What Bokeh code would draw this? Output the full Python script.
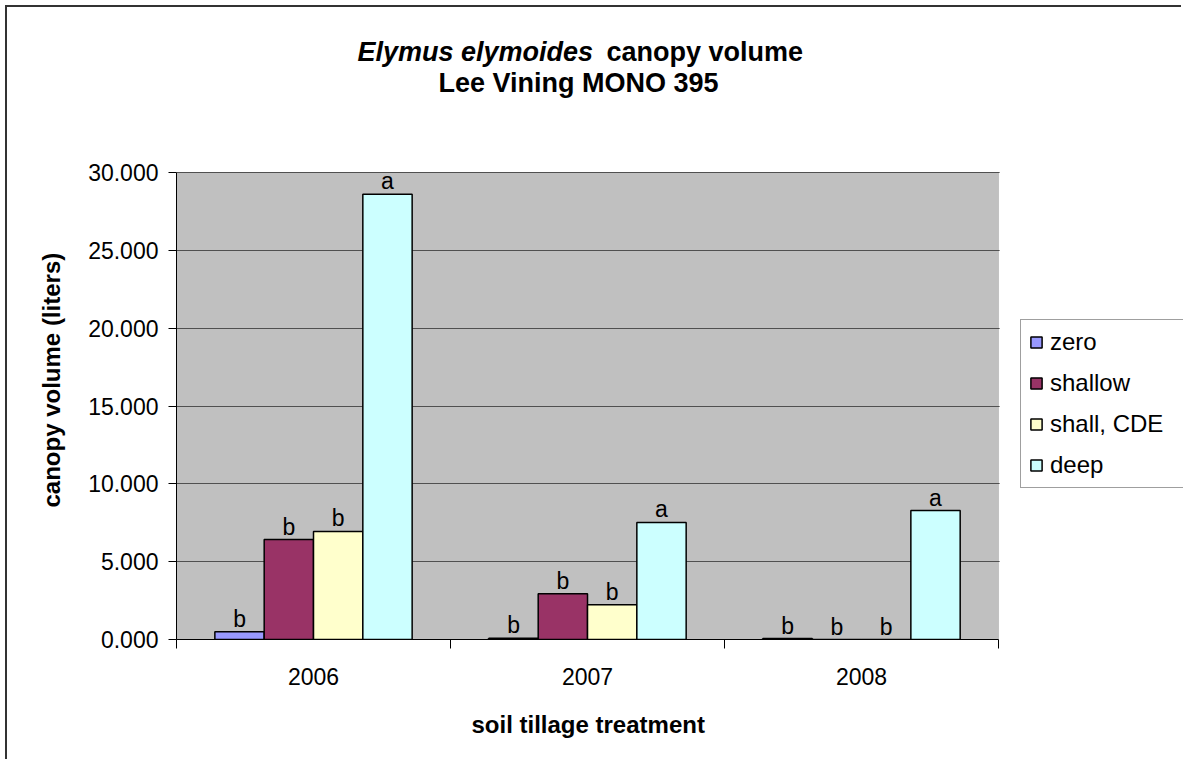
from bokeh.plotting import figure
from bokeh.models import (Range1d, FixedTicker, Label, Legend, LegendItem,
                          NumeralTickFormatter, BoxAnnotation, Title)
from bokeh.embed import file_html
from bokeh.resources import INLINE

years = ["2006", "2007", "2008"]
treatments = ["zero", "shallow", "shall, CDE", "deep"]
zero = [0.49, 0.08, 0.06]
shallow = [6.42, 2.94, 0.0]
shall_cde = [6.94, 2.23, 0.0]
deep = [28.61, 7.52, 8.28]
letters_zero = ["b", "b", "b"]
letters_shallow = ["b", "b", "b"]
letters_cde = ["b", "b", "b"]
letters_deep = ["a", "a", "a"]
y_ticks = [0, 5, 10, 15, 20, 25, 30]

colors = ["#9999FF", "#993366", "#FFFFCC", "#CCFFFF"]
offsets = [-0.27, -0.09, 0.09, 0.27]
bar_w = 0.18
FONT = "Liberation Sans"

p = figure(width=1176, height=754, output_backend="svg", toolbar_location=None,
           x_range=Range1d(0, 3.675), y_range=Range1d(0, 40.6),
           min_border_left=169, min_border_right=0,
           min_border_top=0, min_border_bottom=122)
p.margin = (5, 0, 0, 5)
p.styles = {"border-left": "2px solid #333333", "border-top": "2px solid #333333"}
p.background_fill_color = "white"
p.border_fill_color = "white"
p.outline_line_color = None

# grey plot area
p.add_layout(BoxAnnotation(left=0, right=3, bottom=0, top=30,
                           fill_color="#C0C0C0", fill_alpha=1,
                           line_color="#808080", line_width=1, level="image"))

series = [zero, shallow, shall_cde, deep]
letters = [letters_zero, letters_shallow, letters_cde, letters_deep]
items = []
for k, (vals, lets) in enumerate(zip(series, letters)):
    xs = [i + 0.5 + offsets[k] for i in range(len(years))]
    r = p.vbar(x=xs, top=vals, bottom=0, width=bar_w, fill_color=colors[k],
               line_color="black", line_width=1.5)
    items.append(LegendItem(label=treatments[k], renderers=[r]))
    p.text(x=xs, y=vals, text=lets, text_font={"value": FONT}, text_font_size="23px",
           text_align="center", text_baseline="bottom", y_offset=0,
           text_color="black")

# axes
xa = p.xaxis[0]
xa.bounds = (0, 3)
xa.ticker = FixedTicker(ticks=[0.5, 1.5, 2.5], minor_ticks=[0, 1, 2, 3])
xa.major_label_overrides = {0.5: years[0], 1.5: years[1], 2.5: years[2]}
xa.major_tick_out = 0
xa.major_tick_in = 0
xa.minor_tick_out = 9
xa.minor_tick_in = 0
xa.minor_tick_line_color = "black"
xa.axis_line_color = "black"
xa.major_label_text_font = FONT
xa.major_label_text_font_size = "23px"
xa.major_label_text_color = "black"
xa.major_label_standoff = 19

ya = p.yaxis[0]
ya.bounds = (0, 30)
ya.ticker = FixedTicker(ticks=y_ticks, minor_ticks=[])
ya.formatter = NumeralTickFormatter(format="0.000")
ya.major_tick_out = 8
ya.major_tick_in = 0
ya.major_tick_line_color = "black"
ya.axis_line_color = "black"
ya.major_label_text_font = FONT
ya.major_label_text_font_size = "23px"
ya.major_label_text_color = "black"
ya.major_label_standoff = 10

p.xgrid.visible = False
p.ygrid.ticker = FixedTicker(ticks=y_ticks)
p.ygrid.bounds = (0, 30)
p.ygrid.grid_line_color = "#505050"
p.ygrid.grid_line_width = 1

# keep grid lines inside the grey plot area
p.add_layout(BoxAnnotation(left=3.004, right=10, bottom=-1, top=31,
                           fill_color="white", fill_alpha=1, line_color=None,
                           level="underlay"))

p.add_layout(Title(text="canopy volume (liters)", text_font=FONT,
                   text_font_size="24px", text_font_style="bold",
                   text_color="black", align="left", offset=132,
                   standoff=40, vertical_align="middle"), "left")
p.add_layout(Title(text="soil tillage treatment", text_font=FONT,
                   text_font_size="24px", text_font_style="bold",
                   text_color="black", align="left", offset=295,
                   standoff=45, vertical_align="middle"), "below")

# chart title (inside the extended frame, above the grey plot area)
p.add_layout(Label(x=0.6606, y=37.71, text="Elymus elymoides", text_font=FONT,
                   text_font_size="27px", text_font_style="bold italic",
                   text_align="left", text_baseline="middle", text_color="black"))
p.add_layout(Label(x=1.5693, y=37.71, text="canopy volume", text_font=FONT,
                   text_font_size="27px", text_font_style="bold",
                   text_align="left", text_baseline="middle", text_color="black"))
p.add_layout(Label(x=1.467, y=35.78, text="Lee Vining MONO 395", text_font=FONT,
                   text_font_size="27px", text_font_style="bold",
                   text_align="center", text_baseline="middle", text_color="black"))

legend = Legend(items=items, location=(844, 151), orientation="vertical",
                label_text_font=FONT, label_text_font_size="24px",
                label_text_color="black", glyph_width=14, glyph_height=14,
                label_height=28, label_width=140, spacing=13, padding=8, margin=0,
                label_standoff=7, border_line_color="#404040",
                border_line_width=1, background_fill_color="white",
                background_fill_alpha=1)
p.add_layout(legend, "center")

open("out.html", "w").write(file_html(p, INLINE))
